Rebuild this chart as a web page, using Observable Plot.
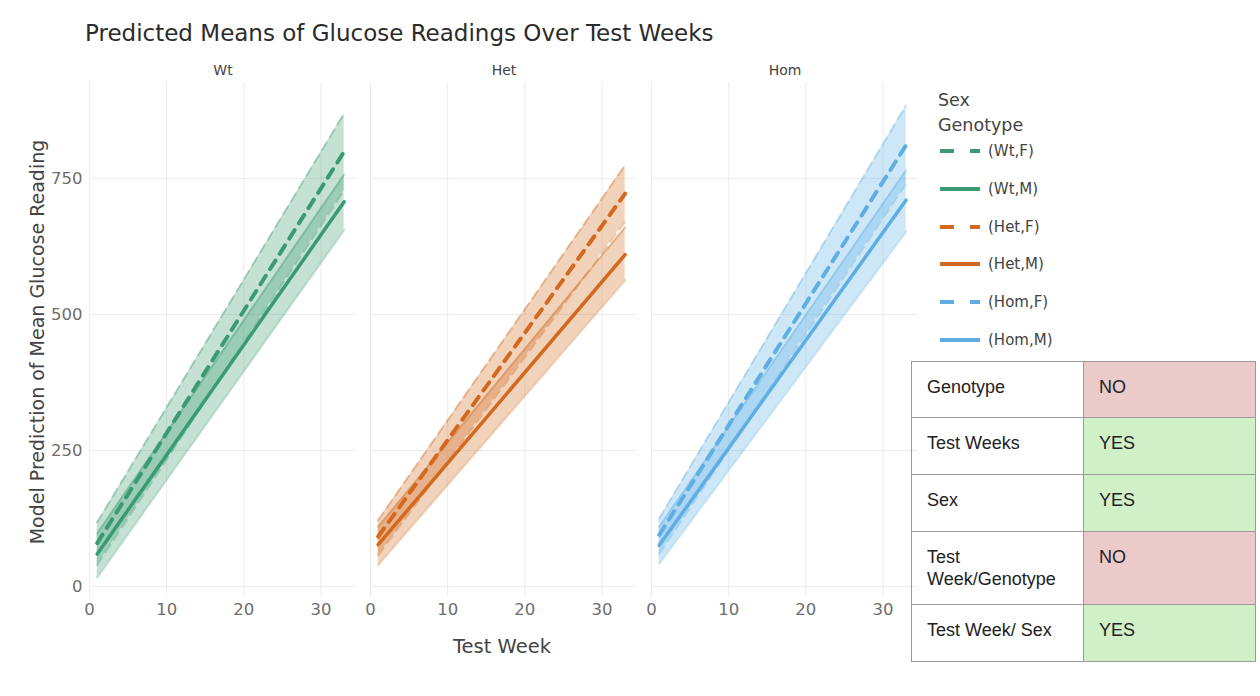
<!DOCTYPE html>
<html>
<head>
<meta charset="utf-8">
<script src="https://cdn.jsdelivr.net/npm/d3@7"></script>
<script src="https://cdn.jsdelivr.net/npm/@observablehq/plot@0.6"></script>
<style>
  html, body { margin: 0; padding: 0; background: #fff; }
  #page { position: relative; width: 1260px; height: 696px; overflow: hidden; font-family: "DejaVu Sans", sans-serif; }
  #chart { position: absolute; left: 0; top: 0; }
  .title { position: absolute; left: 85px; top: 20px; font-size: 23px; color: #2b2b2b; white-space: nowrap; }
  .ylab { position: absolute; left: 37px; top: 342px; transform: translate(-50%, -50%) rotate(-90deg); font-size: 19px; color: #444; white-space: nowrap; }
  .xlab { position: absolute; left: 502px; top: 646px; transform: translate(-50%, -50%); font-size: 19.5px; color: #444; white-space: nowrap; }
  #legend { position: absolute; left: 938px; top: 88px; color: #444; }
  #legend .lt { font-size: 17.5px; line-height: 25px; }
  #legend .row { position: absolute; left: 2px; height: 20px; display: flex; align-items: center; white-space: nowrap; font-size: 15px; }
  #legend svg { margin-right: 8px; }
  table.sig { position: absolute; left: 911px; top: 361px; border-collapse: collapse; font-family: "Liberation Sans", Arial, sans-serif; font-size: 18px; color: #222; }
  table.sig td { border: 1px solid #9a9a9a; padding: 14px 10px 0 15px; vertical-align: top; line-height: 22px; box-sizing: border-box; }
  td.no { background: #ebcbca; }
  td.yes { background: #d0f0c8; }
</style>
</head>
<body>
<div id="page">
  <div id="chart"></div>
  <div class="title">Predicted Means of Glucose Readings Over Test Weeks</div>
  <div class="ylab">Model Prediction of Mean Glucose Reading</div>
  <div class="xlab">Test Week</div>
  <div id="legend"></div>
  <table class="sig" id="sig"></table>
</div>
<script>
// ---- data ----
const genotypes = ["Wt", "Het", "Hom"];
const sexes = ["F", "M"];
const colors = ["#3a9b72", "#d2691e", "#5eaee3"];
const weeks = [1, 33];
const xTicks = [0, 10, 20, 30];
const yTicks = [0, 250, 500, 750];

// predicted mean and interval limits at week 1 and week 33
const wtF_mean = [80, 799],  wtF_lower = [40, 728],  wtF_upper = [118, 869];
const wtM_mean = [60, 707],  wtM_lower = [17, 655],  wtM_upper = [98, 757];
const hetF_mean = [92, 722], hetF_lower = [58, 670], hetF_upper = [122, 774];
const hetM_mean = [77, 610], hetM_lower = [40, 563], hetM_upper = [110, 660];
const homF_mean = [95, 811], homF_lower = [60, 740], homF_upper = [125, 884];
const homM_mean = [76, 710], homM_lower = [42, 652], homM_upper = [110, 765];

const tableFactors = ["Genotype", "Test Weeks", "Sex", "Test Week/Genotype", "Test Week/ Sex"];
const tableSignificant = ["NO", "YES", "YES", "NO", "YES"];

// ---- build rows ----
const series = {
  Wt: {F: [wtF_mean, wtF_lower, wtF_upper], M: [wtM_mean, wtM_lower, wtM_upper]},
  Het: {F: [hetF_mean, hetF_lower, hetF_upper], M: [hetM_mean, hetM_lower, hetM_upper]},
  Hom: {F: [homF_mean, homF_lower, homF_upper], M: [homM_mean, homM_lower, homM_upper]}
};
const rows = [];
for (const g of genotypes) for (const s of sexes) {
  const [m, lo, hi] = series[g][s];
  weeks.forEach((w, i) => rows.push({genotype: g, sex: s, group: `(${g},${s})`, week: w, mean: m[i], lower: lo[i], upper: hi[i]}));
}
const F = rows.filter(d => d.sex === "F");
const M = rows.filter(d => d.sex === "M");

const common = {x: "week", fx: "genotype", z: "group", stroke: "genotype"};

const chart = Plot.plot({
  width: 920,
  height: 670,
  marginLeft: 89,
  marginRight: 2,
  marginTop: 82,
  marginBottom: 73,
  style: {fontFamily: "DejaVu Sans, sans-serif", fontSize: "14px", background: "transparent"},
  fx: {domain: genotypes, paddingInner: 0.05, paddingOuter: 0},
  x: {domain: [0, 34.6]},
  y: {domain: [-20, 926]},
  color: {domain: genotypes, range: colors},
  marks: [
    Plot.gridX({ticks: xTicks, stroke: "#ececec", strokeOpacity: 1}),
    Plot.gridY({ticks: yTicks, stroke: "#ececec", strokeOpacity: 1}),
    Plot.areaY(M, {x: "week", y1: "lower", y2: "upper", fx: "genotype", z: "group", fill: "genotype", fillOpacity: 0.3}),
    Plot.areaY(F, {x: "week", y1: "lower", y2: "upper", fx: "genotype", z: "group", fill: "genotype", fillOpacity: 0.3}),
    Plot.lineY(M, {...common, y: "lower", strokeWidth: 2, strokeOpacity: 0.35}),
    Plot.lineY(M, {...common, y: "upper", strokeWidth: 2, strokeOpacity: 0.35}),
    Plot.lineY(F, {...common, y: "lower", strokeWidth: 2, strokeOpacity: 0.35, strokeDasharray: "9,6"}),
    Plot.lineY(F, {...common, y: "upper", strokeWidth: 2, strokeOpacity: 0.35, strokeDasharray: "9,6"}),
    Plot.lineY(M, {...common, y: "mean", strokeWidth: 3.5}),
    Plot.lineY(F, {...common, y: "mean", strokeWidth: 4, strokeDasharray: "10,8"}),
    Plot.axisX({ticks: xTicks, tickSize: 0, tickPadding: 6, label: null, fill: "#6e6e6e", fontSize: 16.5}),
    Plot.axisY({ticks: yTicks, tickSize: 0, tickPadding: 7, label: null, fill: "#6e6e6e", fontSize: 16.5}),
    Plot.axisFx({anchor: "top", tickSize: 0, tickPadding: 8, label: null, fill: "#444", fontSize: 14})
  ]
});
document.getElementById("chart").appendChild(chart);

// ---- legend ----
const legend = document.getElementById("legend");
legend.innerHTML = '<div class="lt">Sex</div><div class="lt">Genotype</div>';
let k = 0;
genotypes.forEach((g, gi) => sexes.forEach(s => {
  const row = document.createElement("div");
  row.className = "row";
  row.style.top = (53 + k * 37.8) + "px";
  const dash = s === "F" ? 'stroke-dasharray="14,16"' : "";
  row.innerHTML = `<svg width="40" height="10"><line x1="0" y1="5" x2="40" y2="5" stroke="${colors[gi]}" stroke-width="4" ${dash}/></svg><span>(${g},${s})</span>`;
  legend.appendChild(row);
  k++;
}));

// ---- significance table ----
const rowHeights = [56, 57, 57, 73, 57];
const tbl = document.getElementById("sig");
tableFactors.forEach((f, i) => {
  const tr = document.createElement("tr");
  tr.style.height = rowHeights[i] + "px";
  const sig = tableSignificant[i];
  const label = f === "Test Week/Genotype" ? "Test<br>Week/Genotype" : f;
  tr.innerHTML = `<td style="width:172px">${label}</td><td class="${sig === "YES" ? "yes" : "no"}" style="width:172px">${sig}</td>`;
  tbl.appendChild(tr);
});
</script>
</body>
</html>
